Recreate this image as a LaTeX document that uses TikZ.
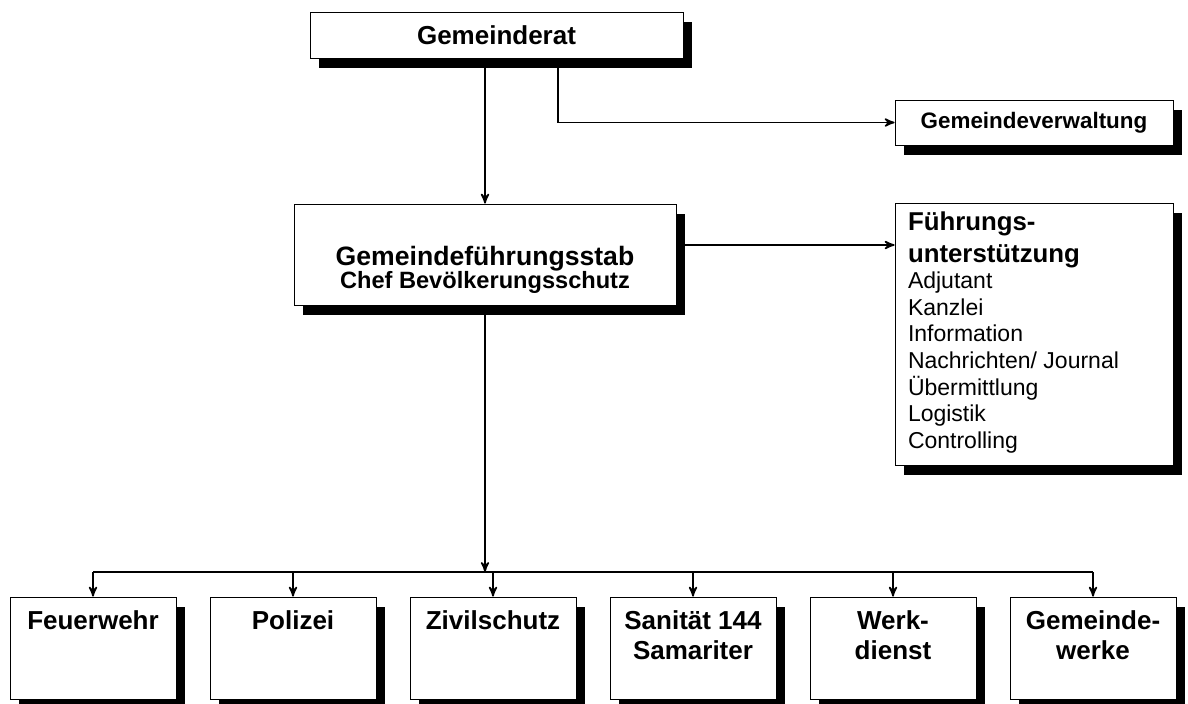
\documentclass[tikz,border=0pt]{standalone}
\usepackage{fontspec}
\setmainfont{Liberation Sans}
\usetikzlibrary{arrows,shadows}

\newcommand{\unitlabel}[1]{\parbox[c][51pt][t]{83pt}{\centering\rule{0pt}{16pt}#1}}

\begin{document}
\begin{tikzpicture}
	[->,>=stealth',line width=0.8pt,x=0.5pt,y=-0.5pt,node distance=100pt,
		org node/.style={draw,thin,fill=white,inner sep=0pt,
			drop shadow={shadow xshift=4.5pt,shadow yshift=-5pt,opacity=1,fill=black}},
		unit node/.style={org node,font=\fontsize{13}{15}\selectfont\bfseries}]

	\useasboundingbox (0,0) rectangle (1188,703);

	\node[org node,minimum width=186.5pt,minimum height=23pt,font=\fontsize{13}{15}\selectfont\bfseries] (GR) at (496.5,35) {Gemeinderat};
	\node[org node,minimum width=139pt,minimum height=22.5pt,font=\fontsize{11.2}{13}\selectfont\bfseries] (GV) at (1034,122.5) {Gemeindeverwaltung};
	\node[org node] (GS) at (485,254.5) {\parbox[c][50.5pt][t]{191pt}{\centering\bfseries\rule{0pt}{30.5pt}\fontsize{13.3}{15}\selectfont Gemeindeführungsstab\\\fontsize{11.8}{11.5}\selectfont Chef Bevölkerungsschutz}};
	\node[org node,inner xsep=6.5pt] (FU) at (1034,334) {\parbox[c][131pt][t]{126pt}{\raggedright
		{\fontsize{12.9}{16}\selectfont\bfseries\rule{0pt}{13.5pt}Führungs-\\unterstützung\par}
		{\fontsize{11.5}{13.3}\selectfont Adjutant\\Kanzlei\\Information\\Nachrichten/ Journal\\Übermittlung\\Logistik\\Controlling\par}}};

	\node[unit node] (FW) at (93,648) {\unitlabel{Feuerwehr}};
	\node[unit node] (PO) [right of=FW] {\unitlabel{Polizei}};
	\node[unit node] (ZS) [right of=PO] {\unitlabel{Zivilschutz}};
	\node[unit node] (SA) [right of=ZS] {\unitlabel{Sanität 144\\Samariter}};
	\node[unit node] (WD) [right of=SA] {\unitlabel{Werk-\\dienst}};
	\node[unit node] (GW) [right of=WD] {\unitlabel{Gemeinde-\\werke}};

	\draw (GR.south -| GS.north) -- (GS.north);
	\draw ([xshift=30.75pt]GR.south) |- (GV.west);
	\draw ([yshift=4.75pt]GS.east) -- ([yshift=4.75pt]GS.east -| FU.west);

	\coordinate (bus) at (485,572);
	\draw (GS.south) -- (bus);
	\draw[-] (FW.north |- bus) -- (GW.north |- bus);
	\foreach \u in {FW,PO,ZS,SA,WD,GW}
		\draw (bus -| \u.north) -- (\u.north);

\end{tikzpicture}
\end{document}
